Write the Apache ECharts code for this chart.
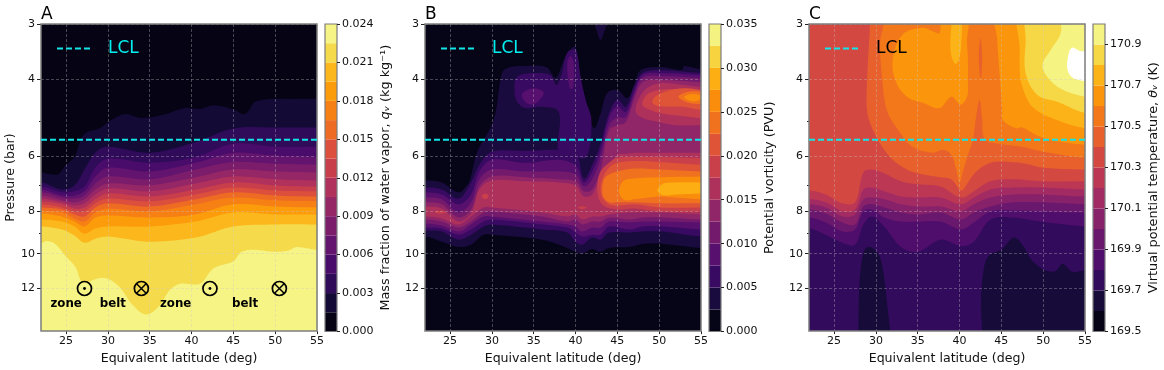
<!DOCTYPE html>
<html><head><meta charset="utf-8">
<style>html,body{margin:0;padding:0;background:#fff}#c{width:1164px;height:370px}</style>
<script src="https://cdn.jsdelivr.net/npm/echarts@6/dist/echarts.min.js"></script>
</head><body><div id="c"></div>
<script>
// ---------- shared ticks / labels ----------
const latTicks=[25,30,35,40,45,50,55];
const pressureTicks=[3,4,6,8,10,12];
const pressureMinorTicks=[5,7,9];
const LCL_pressure=5.5;
const zoneMarkers=[[27.2,12],[42.2,12]];
const beltMarkers=[[34,12],[50.5,12]];
const regionLabels=[[25,13,'zone'],[30.6,13,'belt'],[38.1,13,'zone'],[46.4,13,'belt']];
// colour-bar edges
const A_edges=[0,.0015,.003,.0045,.006,.0075,.009,.0105,.012,.0135,.015,.0165,.018,.0195,.021,.0225,.024];
const A_ticks=[0,.003,.006,.009,.012,.015,.018,.021,.024];
const B_edges=[0,.0025,.005,.0075,.01,.0125,.015,.0175,.02,.0225,.025,.0275,.03,.0325,.035];
const B_ticks=[0,.005,.01,.015,.02,.025,.03,.035];
const C_edges=[169.5,169.6,169.7,169.8,169.9,170,170.1,170.2,170.3,170.4,170.5,170.6,170.7,170.8,170.9,171];
const C_ticks=[169.5,169.7,169.9,170.1,170.3,170.5,170.7,170.9];

// ---------- Panel A contours: pressure of each contour at latitude stations ----------
const A_top=[[22,6.53],[24,6.6],[24.9,6.3],[26,6.02],[26.9,5.43],[27.7,5.27],[29,5.19],[30.1,5.01],[32,4.81],[34,4.91],[37,4.81],[39.1,4.66],[41,4.68],[42.7,4.59],[45,4.69],[46.4,4.81],[47.8,4.49],[52.9,4.44],[55,4.44]];
const A_lat=[22,24.5,26,27.2,28.5,30,35,40.5,45,50,55];
const A_c2=[6.88,7.14,6.99,6.43,5.89,5.71,5.89,5.57,5.19,5.16,5.16];
const A_c3=[7.03,7.25,7.21,7.03,6.37,6.08,6.21,6.02,5.62,5.71,5.71];
const A_c4=[7.14,7.37,7.37,7.21,6.67,6.37,6.5,6.21,5.89,5.98,6.02];
const A_c5=[7.25,7.45,7.49,7.37,6.92,6.67,6.77,6.43,6.18,6.24,6.27];
const A_c6=[7.37,7.56,7.64,7.52,7.14,6.92,6.99,6.7,6.43,6.5,6.53];
const A_c7=[7.49,7.64,7.77,7.68,7.33,7.1,7.21,6.92,6.67,6.77,6.81];
const A_c8=[7.6,7.72,7.89,7.85,7.52,7.29,7.41,7.14,6.88,6.99,7.03];
const A_c9=[7.72,7.85,8.01,8.01,7.68,7.49,7.6,7.33,7.07,7.18,7.21];
const A_c10=[7.85,7.93,8.14,8.23,7.85,7.68,7.81,7.52,7.25,7.37,7.41];
const A_c11=[7.97,8.06,8.31,8.45,8.06,7.89,8.01,7.72,7.45,7.56,7.6];
const A_c12=[8.1,8.23,8.45,8.67,8.27,8.18,8.27,8.14,7.72,7.81,7.85];
const A_c13=[8.36,8.45,8.67,9,8.76,8.67,8.67,8.45,8.06,8.14,8.14];
const A_c14=[8.67,8.81,9.09,9.44,9.24,9.14,9.39,9.19,8.67,8.58,8.58];
const A_c15=[[22,9.47],[22.7,9.36],[23.7,9.5],[24.9,10.1],[26.1,10.7],[27,11.6],[29,11.35],[30,11.4],[31.4,11.9],[33,13.1],[34.6,13.75],[36.2,13.1],[37.4,12.1],[38.6,11.7],[41,11.7],[42.6,10.8],[45,10.4],[46,9.9],[47.8,9.8],[50,9.9],[51.5,9.85],[52.6,9.65],[55,9.8]];

// ---------- Panel B contours ----------
const B_top=[[22,6.81],[24,6.88],[26,7.25],[27,6.99],[27.4,6.77],[28.2,5.89],[30.2,4.97],[31.2,3.88],[32,3.77],[33.5,3.74],[36.5,3.76],[37.6,3.98],[38.6,3.63],[39.3,3.44],[40,3.38],[40.6,3.96],[41.2,4.46],[42.2,5.18],[43,4.78],[43.8,4.3],[45,4.24],[46.2,4.42],[47,4.13],[47.8,3.82],[50.2,3.76],[52.7,3.82],[53,3.74],[55,3.8]];
const B_hang=[[42.3,2.94],[42.6,3.14],[43,3.26],[43.4,3.14],[43.8,2.94]];
const B_blob2=[[32.7,4.24],[33,3.96],[35,3.88],[37,3.92],[37.7,4.13],[38.3,3.92],[39,3.49],[40,3.44],[40.6,3.96],[41.2,4.46],[41.9,4.97],[41.3,6.02],[39.7,6.02],[38,5.89],[38,4.76],[36,4.63],[34,4.66],[33,4.51]];
const B_blob3a=[[33.6,4.33],[35,4.2],[36.2,4.3],[35.2,4.55],[34.2,4.55]];
const B_blob3b=[[39,3.69],[39.4,3.55],[39.8,3.69],[39.7,4.2],[39.3,4.2]];
const B_ulat=[22,24,26,27.5,28.5,30,34,38,40,41,42,43,44,45,46,47,48,50,55];
const B_u2=[7.07,7.14,7.49,6.88,6.27,5.86,5.83,5.8,5.86,6.74,6.27,5.61,4.78,4.46,4.63,4.17,3.88,3.82,3.88];
const B_u3=[7.25,7.33,7.72,7.33,6.5,6.11,6.21,6.11,6.3,6.88,6.5,5.8,4.91,4.61,4.76,4.28,3.92,3.88,3.92];
const B_u4=[7.45,7.52,8.06,7.64,6.77,6.43,6.5,6.5,6.6,7.03,6.77,6.05,5.1,4.89,4.89,4.35,3.98,3.94,3.98];
const B_u5=[7.64,7.72,8.27,7.93,7.03,6.67,6.7,6.77,6.84,7.21,7.14,6.43,5.24,5.1,5.02,4.46,4.07,4.02,4.07];
const B_u6=[7.81,7.89,8.45,8.1,7.14,6.81,6.84,6.88,6.99,7.41,7.33,6.7,6.33,5.95,5.92,5.89,5.89,5.89,5.89];
const B_hi6=[[57,4.17],[55,4.17],[52,4.11],[50,4.09],[48.5,4.2],[47.5,4.46],[47.2,4.76],[48,4.91],[50,5.02],[52,5.1],[55,5.1],[57,5.1]];
const B_hi7=[[57,4.28],[55,4.28],[52,4.22],[50,4.24],[48.5,4.35],[48,4.58],[49,4.71],[50,4.78],[52,4.84],[55,4.91],[57,4.91]];
const B_hi8=[[57,4.33],[55,4.24],[53,4.2],[51,4.26],[49.5,4.39],[49.2,4.53],[50,4.61],[53,4.63],[55,4.71],[57,4.71]];
const B_hi9=[[52.3,4.39],[53.5,4.28],[55,4.28],[57,4.35],[57,4.56],[55,4.56],[53.5,4.53]];
const B_hi10=[[53,4.4],[53.8,4.33],[54.8,4.35],[55.2,4.4],[54.5,4.49],[53.7,4.49]];
const B_lo7=[[42.6,6.95],[43,6.5],[44,6.21],[45,6.05],[47,6.02],[50,6.02],[55,6.05],[57,6.05],[57,8.01],[55,8.01],[50,8.01],[47,7.89],[45,7.93],[43.5,7.81],[42.8,7.52]];
const B_lo8=[[43,7.07],[43.3,6.7],[44,6.37],[45,6.21],[47,6.15],[50,6.18],[55,6.27],[57,6.27],[57,7.85],[55,7.85],[50,7.85],[47,7.72],[45,7.77],[44,7.72],[43.2,7.45]];
const B_lo9=[[43.2,7.14],[43.4,6.77],[44,6.6],[45,6.5],[47,6.4],[50,6.43],[55,6.5],[57,6.5],[57,7.68],[55,7.68],[50,7.68],[47,7.64],[45,7.64],[44,7.64],[43.3,7.41]];
const B_lo10=[[45.2,7.14],[45.8,6.81],[47,6.74],[50,6.7],[55,6.67],[57,6.67],[57,7.52],[55,7.52],[52,7.45],[50,7.41],[47,7.52],[46,7.56],[45.4,7.41]];
const B_lo11=[[49.8,7.14],[50.5,6.92],[52,6.88],[55,6.88],[57,6.88],[57,7.29],[55,7.29],[52,7.33],[50.5,7.37],[49.9,7.25]];
const B_spot1=[[28.8,7.37],[29.2,7.29],[29.6,7.37],[29.4,7.5],[29,7.5]];
const B_spot2=[[23.2,8.02],[24,8],[24.6,8.04],[24,8.1],[23.4,8.08]];
const B_spot3=[[40.3,7.85],[40.8,7.8],[41.3,7.85],[40.8,7.92]];
const B_llat=[22,24,26,27.5,29,30,36,39,40,40.8,42,43,44,46.5,48,50.5,55];
const B_l5=[8.23,8.31,8.58,8.23,7.85,7.85,8.06,8.23,8.14,8.36,8.23,8.23,8.14,8.06,8.06,8.06,8.14];
const B_l4=[8.36,8.45,8.72,8.45,8.06,8.01,8.23,8.45,8.36,8.58,8.45,8.45,8.27,8.36,8.27,8.27,8.36];
const B_l3=[8.54,8.63,8.9,8.58,8.23,8.23,8.45,8.58,8.67,8.9,8.72,8.72,8.45,8.49,8.45,8.45,8.49];
const B_l2=[8.72,8.76,9.05,8.81,8.45,8.36,8.58,8.72,8.95,9.14,9.05,9.05,8.67,8.81,8.67,8.67,8.81];
const B_l1=[8.86,8.9,9.29,9.05,8.67,8.58,8.81,8.95,9.39,9.54,9.19,9.29,8.95,8.95,8.9,8.9,9.14];
const B_l0=[9.14,9.39,9.65,9.54,9.05,9.05,9.29,9.7,9.9,10,9.75,9.9,9.7,9.65,9.5,9.5,9.7];

// ---------- Panel C contours ----------
const C_ge9=[[29.3,2.7],[29.3,3],[29,3.82],[28.9,4.63],[29.3,5.04],[30.5,5.61],[32,6.11],[33.7,6.43],[35,6.56],[37.7,6.7],[39,6.77],[40.2,7.18],[41,6.88],[42,6.5],[43.7,6.21],[46,6.18],[48,6.24],[50,6.37],[55,6.43],[58,6.43],[58,2.7]];
const C_ge10=[[30.9,2.7],[30.9,3],[30.5,3.31],[30.7,3.88],[31.3,4.71],[32.7,5.24],[34.4,5.71],[36.8,5.89],[38,5.8],[39,5.95],[39.6,6.43],[40,6.88],[40.4,6.5],[41,5.95],[41.6,5.51],[42,4.84],[42.4,4.46],[42.7,4.91],[43,5.48],[44.5,5.61],[47.5,5.71],[50,5.86],[55,6.05],[58,6.05],[58,2.7]];
const C_spike9=[[42.5,3.23],[42.7,3.53],[42.6,3.96],[42.45,3.96],[42.3,3.53]];
const C_ge11L=[[32,3.63],[33.2,3.17],[35.6,3.06],[37,3.13],[37.6,3.15],[38.1,2.8],[41,2.8],[40.9,3.26],[41,3.63],[41,4.13],[40.9,4.39],[40.1,4.58],[39,4.39],[37.6,4.66],[35.6,4.53],[33.9,4.42],[32.5,4.11]];
const C_ge11R=[[44.4,2.7],[44.5,3.26],[44.8,3.92],[45.1,4.71],[45.2,4.97],[46.7,5.18],[47.5,5.16],[50,5.45],[55,5.65],[58,5.65],[58,2.7]];
const C_ge12I=[[39.4,2.8],[38.9,3.26],[39,3.53],[39.5,3.7],[39.9,3.63],[40.2,3.35],[40.2,2.8]];
const C_ge12R=[[47.3,2.7],[47.2,3.44],[47.2,3.82],[47.4,4.11],[48.7,4.63],[51.7,4.97],[55,5.18],[58,5.18],[58,2.7]];
const C_ge13=[[48.3,2.7],[47.9,3.3],[47.9,3.88],[49.3,4.35],[51.7,4.51],[55,4.78],[58,4.78],[58,2.7]];
const C_ge14=[[52.3,2.7],[52.1,3.14],[50.9,3.44],[49.9,3.72],[50.5,3.96],[52,4.2],[55,4.39],[58,4.39],[58,2.7]];
const C_over=[[53.4,3.4],[52.9,3.63],[53,3.86],[53.8,4],[56,4],[56,3.44],[54.5,3.46]];
const C_lat=[22,24,26,27.5,28.5,29.5,31,33,35,37.7,40.2,41.7,43.7,46.5,49.7,55];
const C_t7=[7.18,7.33,7.68,7.64,6.53,6.43,6.56,6.84,6.95,7.03,7.45,7.21,6.84,6.77,6.84,6.84];
const C_t6=[7.52,7.64,8.01,7.93,7.14,7.07,7.21,7.41,7.45,7.45,7.72,7.45,7.14,7.07,7.07,7.14];
const C_t5=[7.72,7.85,8.23,8.14,7.52,7.45,7.52,7.72,7.81,7.81,8.01,7.72,7.45,7.33,7.33,7.41];
const C_t4=[7.93,8.1,8.49,8.58,7.81,7.72,7.85,8.06,8.14,8.06,8.36,8.06,7.81,7.64,7.64,7.72];
const C_t3=[8.27,8.49,8.9,8.81,8.01,7.93,8.27,8.45,8.45,8.45,8.81,8.49,8.01,7.97,8.01,8.06];
const C_t2=[8.76,9.05,9.44,9.54,8.58,8.23,8.67,9.65,9.9,9.29,9.6,9.39,8.36,8.27,8.45,8.67];
const C_low1L=[[27.9,16.5],[27.9,15],[28,12],[28.3,10.4],[28.7,9.75],[29.2,9.65],[29.8,9.75],[30.5,10.2],[31,11.4],[31.4,13.3],[31.7,15],[31.8,16.5]];
const C_low1R=[[42.7,16.5],[42.7,15],[42.55,12.9],[42.9,10.8],[43.5,10.1],[45.1,9.75],[46.5,9.19],[47.7,9.65],[48.5,10.27],[49.5,10.7],[50.5,10.95],[51.5,10.95],[52.3,10.54],[53.5,11],[55,10.9],[58,10.9],[58,16.5]];

// ---------- styling helpers ----------
const FONT='DejaVu Sans';
const stops=[[0,'#000004'],[.05,'#08051e'],[.1,'#160b39'],[.15,'#2c0b58'],[.2,'#420a68'],[.25,'#57106e'],[.3,'#6a176e'],[.35,'#7f1e6c'],[.4,'#932667'],[.45,'#a82e5f'],[.5,'#bc3754'],[.55,'#cf4446'],[.6,'#dd513a'],[.65,'#ed6925'],[.7,'#f37819'],[.75,'#fb8d0c'],[.8,'#fca50a'],[.85,'#fbba1f'],[.9,'#f6d746'],[.95,'#f1ed71'],[1,'#fcffa4']];
function hex(c){return [1,3,5].map(i=>parseInt(c.substr(i,2),16));}
function inferno(t){for(let i=1;i<stops.length;i++){if(t<=stops[i][0]){const a=stops[i-1],b=stops[i],f=(t-a[0])/(b[0]-a[0]);const x=hex(a[1]),y=hex(b[1]);return 'rgb('+x.map((v,j)=>Math.round(v+(y[j]-v)*f)).join(',')+')';}}return stops[stops.length-1][1];}
const bandColors=n=>Array.from({length:n},(_,k)=>inferno((k+.5)/n));
const zip=(lat,p)=>lat.map((v,i)=>[v,p[i]]);
const open=(pts)=>[[16,pts[0][1]],...pts,[60,pts[pts.length-1][1]],[60,22],[16,22]];
const FULL=[[-60,.2],[120,.2],[120,150],[-60,150]];

const aCol=bandColors(16),bCol=bandColors(14),cCol=bandColors(15);
const L=(pts,c)=>({pts,color:c});
const layersA=[L(FULL,aCol[0]),L(open(A_top),aCol[1]),
  ...[A_c2,A_c3,A_c4,A_c5,A_c6,A_c7,A_c8,A_c9,A_c10,A_c11,A_c12,A_c13,A_c14].map((p,i)=>L(open(zip(A_lat,p)),aCol[i+2])),
  L(open(A_c15),aCol[15])];
const layersB=[L(FULL,bCol[0]),L(open(B_top),bCol[1]),L(B_hang,bCol[1]),L(B_blob2,bCol[2]),L(B_blob3a,bCol[3]),L(B_blob3b,bCol[3]),
  ...[B_u2,B_u3,B_u4,B_u5,B_u6].map((p,i)=>L(open(zip(B_ulat,p)),bCol[i+2])),
  L(B_hi6,bCol[6]),L(B_hi7,bCol[7]),L(B_hi8,bCol[8]),L(B_hi9,bCol[9]),L(B_hi10,bCol[10]),
  L(B_lo7,bCol[7]),L(B_lo8,bCol[8]),L(B_lo9,bCol[9]),L(B_lo10,bCol[10]),L(B_lo11,bCol[11]),
  L(B_spot1,bCol[7]),L(B_spot2,bCol[7]),L(B_spot3,bCol[7]),
  ...[B_l5,B_l4,B_l3,B_l2,B_l1,B_l0].map((p,i)=>L(open(zip(B_llat,p)),bCol[5-i]))];
const layersC=[L(FULL,cCol[8]),L(C_ge9,cCol[9]),L(C_ge10,cCol[10]),L(C_spike9,cCol[9]),L(C_ge11L,cCol[11]),L(C_ge11R,cCol[11]),L(C_ge12I,cCol[12]),L(C_ge12R,cCol[12]),L(C_ge13,cCol[13]),L(C_ge14,cCol[14]),L(C_over,'#ffffff'),
  ...[C_t7,C_t6,C_t5,C_t4,C_t3,C_t2].map((p,i)=>L(open(zip(C_lat,p)),cCol[7-i])),
  L(C_low1L,cCol[1]),L(C_low1R,cCol[1])];

const panels=[
 {left:41,cb:325,title:'A',layers:layersA,edges:A_edges,colors:aCol,ticks:A_ticks,fmt:v=>v.toFixed(3),
  name:'{a|Mass fraction of water vapor, }{i|qᵥ}{a| (kg kg⁻¹)}',legend:'#00f0f0'},
 {left:425,cb:709,title:'B',layers:layersB,edges:B_edges,colors:bCol,ticks:B_ticks,fmt:v=>v.toFixed(3),
  name:'{a|Potential vorticity (PVU)}',legend:'#00f0f0'},
 {left:809,cb:1093,title:'C',layers:layersC,edges:C_edges,colors:cCol,ticks:C_ticks,fmt:v=>v.toFixed(1),
  name:'{a|Virtual potential temperature, }{i|θᵥ}{a| (K)}',legend:'#000'}
];
const TOP=24,H=307.5,W=276,CBW=12;
const lblStyle={color:'#111',fontFamily:FONT,fontSize:11};
const gridLine={show:true,lineStyle:{color:'rgba(200,200,200,.42)',type:[3,2],width:.8}};
const grids=[],xAxes=[],yAxes=[],series=[],titles=[],legends=[];
panels.forEach((p,i)=>{
  grids.push({left:p.left,top:TOP,width:W,height:H,show:true,borderColor:'#7d7d7d',borderWidth:1.5,backgroundColor:'transparent',z:4});
  grids.push({left:p.cb,top:TOP,width:CBW,height:H,show:true,borderColor:'#7d7d7d',borderWidth:1.2,backgroundColor:'transparent',z:4});
  xAxes.push({type:'value',gridIndex:2*i,min:22,max:55,z:3,axisLine:{show:false},
    axisTick:{show:true,length:3,lineStyle:{color:'#222'},customValues:latTicks},
    axisLabel:{...lblStyle,margin:5,customValues:latTicks},
    splitLine:gridLine,
    name:'Equivalent latitude (deg)',nameLocation:'middle',nameGap:19.5,nameTextStyle:{color:'#111',fontFamily:FONT,fontSize:12.6}});
  xAxes.push({type:'category',gridIndex:2*i+1,data:['band'],show:false});
  yAxes.push({type:'log',gridIndex:2*i,position:'left',min:3,max:15,inverse:true,z:3,axisLine:{show:false},
    axisTick:{show:true,length:4,lineStyle:{color:'#222'},customValues:pressureTicks},
    axisLabel:{...lblStyle,margin:6,customValues:pressureTicks},
    splitLine:gridLine,
    name:i==0?'Pressure (bar)':'',nameLocation:'middle',nameGap:20,nameTextStyle:{color:'#111',fontFamily:FONT,fontSize:12.6}});
  yAxes.push({type:'log',gridIndex:2*i,position:'left',min:3,max:15,inverse:true,axisLine:{show:false},
    axisTick:{show:true,length:2,lineStyle:{color:'#222'},customValues:pressureMinorTicks},
    axisLabel:{show:false},splitLine:{show:false}});
  yAxes.push({type:'value',gridIndex:2*i+1,position:'right',min:p.edges[0],max:p.edges[p.edges.length-1],z:5,axisLine:{show:false},
    axisTick:{show:true,length:3,lineStyle:{color:'#222'},customValues:p.ticks},
    axisLabel:{...lblStyle,margin:5,customValues:p.ticks,formatter:p.fmt},
    splitLine:{show:false},
    name:p.name,nameLocation:'middle',nameRotate:90,nameGap:42,
    nameTextStyle:{rich:{a:{color:'#111',fontFamily:FONT,fontSize:12.8},i:{color:'#111',fontFamily:FONT,fontSize:12.8,fontStyle:'italic'}}}});
  const lay=p.layers;
  series.push({type:'custom',name:'contours '+p.title,xAxisIndex:2*i,yAxisIndex:3*i,clip:true,z:2,silent:true,animation:false,
    encode:{x:0,y:1},data:lay.map((l,j)=>[l.pts[0][0],l.pts[0][1],j]),
    renderItem:(params,api)=>{const l=lay[api.value(2)];return {type:'polygon',shape:{points:l.pts.map(q=>api.coord(q)),smooth:.35},style:{fill:l.color}};}});
  series.push({type:'line',name:'LCL',xAxisIndex:2*i,yAxisIndex:3*i,z:6,symbol:'none',silent:true,animation:false,
    data:[[22,LCL_pressure],[55,LCL_pressure]],lineStyle:{color:'#13e6e6',width:2,type:[6,3]},itemStyle:{color:'#13e6e6'}});
  p.colors.forEach((c,k)=>series.push({type:'bar',name:'cb'+p.title+k,stack:'cb'+p.title,xAxisIndex:2*i+1,yAxisIndex:3*i+2,barWidth:'100%',silent:true,animation:false,z:2,
    itemStyle:{color:c},data:[k==0?p.edges[1]:p.edges[k+1]-p.edges[k]]}));
  titles.push({text:p.title,left:p.left-5,top:1,textStyle:{fontFamily:FONT,fontWeight:'normal',fontSize:17,color:'#000'}});
  legends.push({data:['LCL'],left:p.left+10,top:35,itemWidth:36,itemHeight:10,selectedMode:false,z:7,
    itemStyle:{color:'transparent',opacity:0,borderWidth:0},
    lineStyle:{color:'#13e6e6',width:2,type:[6,3]},
    textStyle:{color:p.legend,fontFamily:FONT,fontSize:17,padding:[0,0,0,10]}});
});
const mk={color:'transparent',borderColor:'#000',borderWidth:1.7,opacity:1};
series.push({type:'scatter',name:'circle',xAxisIndex:0,yAxisIndex:0,z:7,symbol:'circle',symbolSize:14,silent:true,animation:false,itemStyle:mk,data:[...zoneMarkers,...beltMarkers]});
series.push({type:'scatter',name:'zone dot',xAxisIndex:0,yAxisIndex:0,z:7,symbol:'circle',symbolSize:2.8,silent:true,animation:false,itemStyle:{color:'#000',opacity:1},data:zoneMarkers});
series.push({type:'scatter',name:'belt cross',xAxisIndex:0,yAxisIndex:0,z:7,symbol:'path://M0,0L10,10M10,0L0,10',symbolSize:10,silent:true,animation:false,itemStyle:{color:'transparent',borderColor:'#000',borderWidth:1.5,opacity:1},data:beltMarkers});
series.push({type:'scatter',name:'regions',xAxisIndex:0,yAxisIndex:0,z:7,symbolSize:0,silent:true,animation:false,itemStyle:{opacity:1},data:regionLabels,
  label:{show:true,position:'inside',formatter:o=>o.value[2],fontFamily:FONT,fontWeight:'bold',fontSize:11.8,color:'#000'}});
const chart=echarts.init(document.getElementById('c'),null,{renderer:'canvas'});
chart.setOption({animation:false,backgroundColor:'#fff',title:titles,legend:legends,grid:grids,xAxis:xAxes,yAxis:yAxes,series});
</script></body></html>
